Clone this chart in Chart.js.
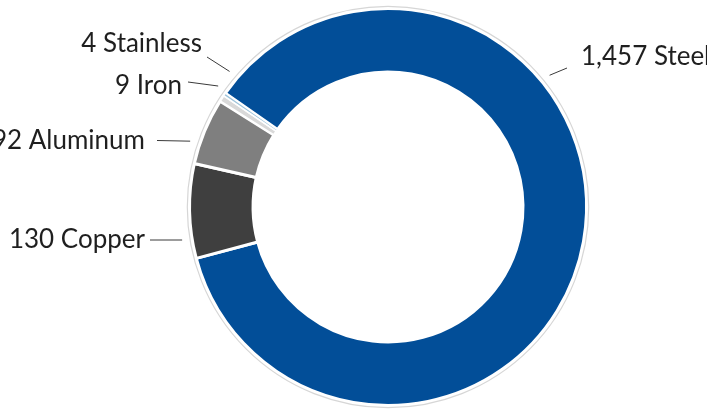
<!DOCTYPE html>
<html>
<head>
<meta charset="utf-8">
<script src="https://cdn.jsdelivr.net/npm/chart.js@4/dist/chart.umd.min.js"></script>
<style>
  html, body { margin: 0; padding: 0; background: #ffffff; }
  #wrap { width: 707px; height: 413px; position: relative; }
</style>
</head>
<body>
<div id="wrap"><canvas id="chart"></canvas></div>
<script>
// Metal volumes by material
const categories = ['Steel', 'Copper', 'Aluminum', 'Iron', 'Stainless'];
const values = [1457, 130, 92, 9, 4];
const colors = ['#024e98', '#3f3f3f', '#7f7f7f', '#d9d9d9', '#9ec3da'];

// Where each outside label sits, and where its leader line starts (pointing towards the ring)
const labelLayout = [
  { x: 581, y: 65,  align: 'left',  from: [567, 68],  dir: [-24, 10] },  // Steel
  { x: 145, y: 248, align: 'right', from: [150, 240], dir: [1, 0] },     // Copper
  { x: 145, y: 149, align: 'right', from: [157, 140.5], dir: [1, 0.02] },// Aluminum
  { x: 182, y: 94,  align: 'right', from: [188, 82],  dir: [30, 4] },    // Iron
  { x: 202, y: 52,  align: 'right', from: [207, 57],  dir: [25, 16] }    // Stainless
];

const labelText = (i) => values[i].toLocaleString('en-US') + ' ' + categories[i];

// Thin grey rim around the outside of the ring
const rimPlugin = {
  id: 'rim',
  afterDatasetsDraw(chart) {
    const arc = chart.getDatasetMeta(0).data[0];
    if (!arc) return;
    const { x, y, outerRadius } = arc.getProps(['x', 'y', 'outerRadius'], true);
    const ctx = chart.ctx;
    ctx.save();
    ctx.beginPath();
    ctx.arc(x, y, outerRadius + 2.2, 0, Math.PI * 2);
    ctx.strokeStyle = '#d6d6d6';
    ctx.lineWidth = 1.2;
    ctx.stroke();
    ctx.restore();
  }
};

// Outside labels with leader lines that stop just short of the ring
const outsideLabels = {
  id: 'outsideLabels',
  afterDraw(chart) {
    const meta = chart.getDatasetMeta(0);
    const arc = meta.data[0];
    if (!arc) return;
    const { x: cx, y: cy, outerRadius } = arc.getProps(['x', 'y', 'outerRadius'], true);
    const reach = outerRadius + 10;
    const ctx = chart.ctx;
    ctx.save();
    ctx.font = '26px Lato, "Open Sans", sans-serif';
    ctx.fillStyle = '#1f1f1f';
    ctx.textBaseline = 'alphabetic';
    labelLayout.forEach((l, i) => {
      ctx.textAlign = l.align;
      ctx.fillText(labelText(i), l.x, l.y);

      const len = Math.hypot(l.dir[0], l.dir[1]);
      const dx = l.dir[0] / len, dy = l.dir[1] / len;
      const fx = l.from[0] - cx, fy = l.from[1] - cy;
      const b = fx * dx + fy * dy;
      const c = fx * fx + fy * fy - reach * reach;
      const disc = b * b - c;
      const t = disc >= 0 ? (-b - Math.sqrt(disc)) : -b;
      ctx.beginPath();
      ctx.moveTo(l.from[0], l.from[1]);
      ctx.lineTo(l.from[0] + dx * t, l.from[1] + dy * t);
      ctx.strokeStyle = '#3a3a3a';
      ctx.lineWidth = 1;
      ctx.stroke();
    });
    ctx.restore();
  }
};

new Chart(document.getElementById('chart'), {
  type: 'doughnut',
  data: {
    labels: categories,
    datasets: [{
      data: values,
      backgroundColor: colors,
      borderColor: '#ffffff',
      borderWidth: [3, 3, 3, 2, 1.5]
    }]
  },
  options: {
    responsive: true,
    maintainAspectRatio: false,
    animation: false,
    events: [],
    rotation: -55,
    cutout: '68%',
    layout: { padding: { top: 7, bottom: 6, left: 100, right: 31 } },
    plugins: {
      legend: { display: false },
      tooltip: { enabled: false }
    }
  },
  plugins: [rimPlugin, outsideLabels]
});
</script>
</body>
</html>
